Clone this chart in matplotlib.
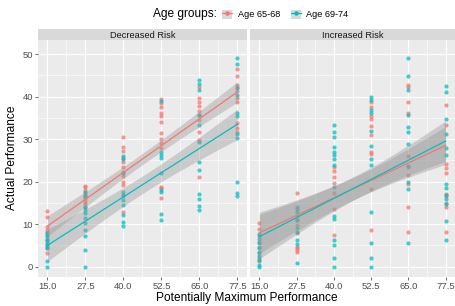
import matplotlib
matplotlib.use("Agg")
import matplotlib.pyplot as plt
import numpy as np
from matplotlib.lines import Line2D
from matplotlib.patches import Patch
from matplotlib.legend_handler import HandlerTuple

plt.rcParams["font.family"] = ["Liberation Sans", "DejaVu Sans"]

X_LEVELS = [15.0, 27.5, 40.0, 52.5, 65.0, 77.5]
PANELS = ["Decreased Risk", "Increased Risk"]
GROUPS = ["Age 65-68", "Age 69-74"]
COLORS = {"Age 65-68": "#F8766D", "Age 69-74": "#00BFC4"}

# actual performance per x level
dec_6568 = [
    [13.1, 11.6, 9.4, 8.5, 8.1, 7.5, 6.2, 5.3, 4.3, 3.1],
    [19.0, 18.7, 18.0, 17.2, 16.8, 16.3, 15.8, 15.3, 14.7, 14.1],
    [30.4, 28.1, 27.3, 25.5, 24.5, 23.5, 22.3, 21.2, 20.0, 19.2, 16.5, 12.9],
    [39.4, 38.4, 37.5, 36.2, 35.4, 33.9, 31.5, 30.1, 29.0, 27.8, 18.8, 18.4, 16.1],
    [42.3, 39.6, 38.6, 37.8, 36.7, 35.7, 34.5, 31.7, 29.8, 21.0],
    [46.4, 44.9, 42.7, 42.2, 41.4, 39.6, 38.8, 33.7, 32.5, 31.7],
]
dec_6974 = [
    [8.0, 7.1, 6.5, 6.0, 5.3, 4.8, 4.3, 1.4, 0.0],
    [17.6, 16.5, 14.1, 13.3, 12.5, 11.4, 10.2, 8.6, 7.1, 3.8, 0.0],
    [25.9, 25.2, 22.0, 17.6, 16.8, 15.7, 14.5, 12.2, 10.6, 9.6],
    [39.0, 27.0, 26.2, 25.5, 22.1, 18.0, 17.5, 12.3, 11.0],
    [43.9, 42.9, 41.5, 35.7, 33.3, 29.4, 24.7, 22.7, 17.1, 15.9, 14.3, 13.3],
    [49.1, 47.7, 42.0, 40.4, 36.2, 35.4, 31.1, 30.2, 20.0, 17.4, 16.5],
]
inc_6568 = [
    [10.2, 8.8, 7.1, 5.8, 4.7, 3.1, 2.0, 1.2],
    [17.3, 11.8, 11.0, 9.8, 7.8, 4.7, 4.3, 3.8, 3.4],
    [23.5, 22.6, 21.0, 19.6, 17.3, 13.5, 7.5],
    [38.6, 37.6, 35.4, 34.7, 33.1, 31.0, 27.0, 26.6, 18.3, 8.6],
    [42.7, 42.2, 38.8, 36.2, 26.0, 23.4, 21.6, 19.4, 14.0, 8.1],
    [37.9, 33.3, 24.1, 23.1, 22.0, 17.1, 16.6, 15.0, 14.1, 8.2],
]
inc_6974 = [
    [7.7, 6.4, 5.5, 4.3, 3.5, 2.4, 1.6, 0.4, 0.0],
    [14.1, 13.5, 12.9, 11.0, 9.0, 8.2, 6.3, 5.3, 0.8],
    [33.3, 31.7, 30.4, 28.1, 27.0, 26.3, 25.2, 23.9, 18.7, 11.9, 11.1, 6.3, 5.0, 2.0, 0.0],
    [39.8, 39.2, 36.8, 36.2, 32.0, 28.4, 25.2, 23.9, 12.9, 5.5, 2.0, 0.0],
    [49.1, 44.9, 41.5, 35.7, 32.8, 31.7, 28.8, 23.7, 19.8, 18.3, 5.6],
    [42.5, 41.0, 34.7, 31.1, 28.0, 26.3, 19.4, 18.4, 16.9, 15.8, 14.7, 10.7, 6.3],
]
DATA = {
    "Decreased Risk": {"Age 65-68": dec_6568, "Age 69-74": dec_6974},
    "Increased Risk": {"Age 65-68": inc_6568, "Age 69-74": inc_6974},
}


def flatten(columns):
    xs, ys = [], []
    for x, vals in zip(X_LEVELS, columns):
        xs += [x] * len(vals)
        ys += vals
    return np.array(xs), np.array(ys)


def lm_band(x, y, grid):
    n = len(x)
    slope, icpt = np.polyfit(x, y, 1)
    resid = y - (icpt + slope * x)
    s = np.sqrt(np.sum(resid ** 2) / (n - 2))
    sxx = np.sum((x - x.mean()) ** 2)
    fit = icpt + slope * grid
    se = s * np.sqrt(1 / n + (grid - x.mean()) ** 2 / sxx)
    return fit, 1.99 * se


fig = plt.figure(figsize=(4.56, 3.06), dpi=100)
W, H = 456, 306
panel_left = [38, 250]
panel_right = [247, 455]
top, bottom = 40, 277

for i, name in enumerate(PANELS):
    l, r = panel_left[i], panel_right[i]
    ax = fig.add_axes([l / W, 1 - bottom / H, (r - l) / W, (bottom - top) / H])
    ax.set_facecolor("#EBEBEB")
    for sp in ax.spines.values():
        sp.set_visible(False)
    ax.set_xlim(11.875, 80.625)
    ax.set_ylim(-2.45, 53.3)
    ax.set_xticks(X_LEVELS)
    ax.set_xticks([21.25, 33.75, 46.25, 58.75, 71.25], minor=True)
    ax.set_yticks([0, 10, 20, 30, 40, 50])
    ax.set_yticks([5, 15, 25, 35, 45], minor=True)
    ax.grid(which="major", color="white", linewidth=0.8)
    ax.grid(which="minor", color="white", linewidth=0.4)
    ax.set_axisbelow(True)
    ax.tick_params(which="major", length=2, width=0.5, color="#333333",
                   labelsize=6.8, labelcolor="#4D4D4D", pad=1.5)
    ax.tick_params(which="minor", length=0)
    ax.set_xticklabels([f"{v:.1f}" for v in X_LEVELS])
    if i == 1:
        ax.tick_params(axis="y", which="major", length=0, labelleft=False)

    grid = np.linspace(15, 77.5, 80)
    fits = {}
    for g in GROUPS:
        x, y = flatten(DATA[name][g])
        ax.scatter(x, y, s=9, color=COLORS[g], alpha=0.75, linewidths=0, zorder=2)
        fits[g] = lm_band(x, y, grid)
    for g in GROUPS:
        fit, half = fits[g]
        ax.fill_between(grid, fit - half, fit + half, color="#999999", alpha=0.4,
                        linewidth=0, zorder=3)
    for g in GROUPS:
        ax.plot(grid, fits[g][0], color=COLORS[g], linewidth=0.9, zorder=4)

    strip = fig.add_axes([l / W, 1 - top / H, (r - l) / W, 11 / H])
    strip.set_facecolor("#D9D9D9")
    strip.set_xticks([])
    strip.set_yticks([])
    for sp in strip.spines.values():
        sp.set_visible(False)
    strip.text(0.5, 0.45, name, ha="center", va="center", fontsize=6.7,
               color="#1A1A1A", transform=strip.transAxes)

fig.text(246.5 / W, 1 - 298 / H, "Potentially Maximum Performance", ha="center",
         va="center", fontsize=8.6)
fig.text(12 / W, 1 - 158 / H, "Actual Performance", ha="center", va="center",
         rotation=90, fontsize=8.6)
fig.text(217 / W, 1 - 14.5 / H, "Age groups:", ha="right", va="center", fontsize=8.6)

handles = [(Patch(facecolor="#D9D9D9", edgecolor="none"),
            Line2D([], [], color=COLORS[g], marker="o", markersize=2.2, linewidth=0.9))
           for g in GROUPS]
fig.legend(handles, GROUPS, handler_map={tuple: HandlerTuple(ndivide=1, pad=0)},
           loc="center left", bbox_to_anchor=(222 / W, 1 - 14.5 / H), ncol=2,
           frameon=False, fontsize=6.6, handlelength=1.1, handleheight=1.1,
           handletextpad=0.6, columnspacing=1.2, borderpad=0, borderaxespad=0)

fig.savefig("out.png", dpi=100)
